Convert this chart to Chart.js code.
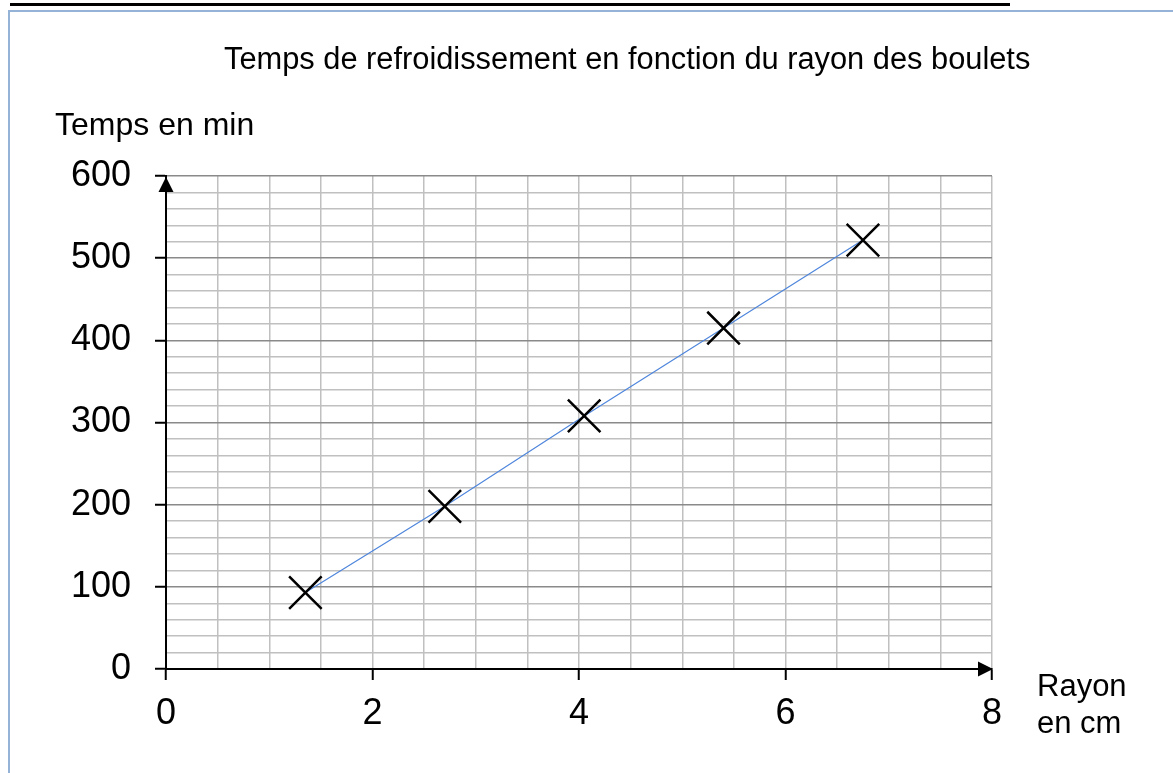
<!DOCTYPE html>
<html lang="fr">
<head>
<meta charset="utf-8">
<script src="https://cdn.jsdelivr.net/npm/chart.js@4/dist/chart.umd.min.js"></script>
<style>
  html, body { margin: 0; padding: 0; background: #ffffff; }
  body { width: 1173px; height: 773px; position: relative; overflow: hidden; font-family: "Liberation Sans", Arial, sans-serif; }
  #topbar { position: absolute; left: 10px; top: 3px; width: 1000px; height: 3px; background: #000; }
  #frame { position: absolute; left: 8px; top: 10px; width: 1200px; height: 800px; border-left: 2px solid #95b3d7; border-top: 2px solid #95b3d7; }
  canvas { position: absolute; left: 0; top: 0; }
  .txt { position: absolute; color: #000; line-height: 1; white-space: nowrap; }
  #title { left: 224px; top: 44px; font-size: 30.8px; }
  #ylab { left: 55px; top: 108px; font-size: 32px; }
  #xlab { left: 1037px; top: 668px; font-size: 31px; line-height: 36.5px; }
</style>
</head>
<body>
<div id="topbar"></div>
<div id="frame"></div>
<canvas id="c" width="1173" height="773" style="width:1173px;height:773px"></canvas>
<div class="txt" id="title">Temps de refroidissement en fonction du rayon des boulets</div>
<div class="txt" id="ylab">Temps en min</div>
<div class="txt" id="xlab">Rayon<br>en cm</div>
<script>
// ---- data ----
const radii = [1.35, 2.7, 4.05, 5.4, 6.75];      // rayon en cm
const times = [93, 198, 308, 415, 522];          // temps en min
const xTickLabels = [0, 2, 4, 6, 8];
const yTickLabels = [0, 100, 200, 300, 400, 500, 600];

const points = radii.map((r, i) => ({ x: r, y: times[i] }));

const arrowPlugin = {
  id: 'arrows',
  afterDraw(chart) {
    const ctx = chart.ctx;
    const xs = chart.scales.x, ys = chart.scales.y;
    const x0 = xs.getPixelForValue(0), y0 = ys.getPixelForValue(0);
    const xTop = ys.getPixelForValue(600), xEnd = xs.getPixelForValue(8);
    ctx.save();
    ctx.fillStyle = '#000';
    // up arrow
    ctx.beginPath();
    ctx.moveTo(x0, xTop + 1);
    ctx.lineTo(x0 - 7.5, xTop + 16);
    ctx.lineTo(x0 + 7.5, xTop + 16);
    ctx.closePath();
    ctx.fill();
    // right arrow
    ctx.beginPath();
    ctx.moveTo(xEnd + 1, y0);
    ctx.lineTo(xEnd - 14, y0 - 7.5);
    ctx.lineTo(xEnd - 14, y0 + 7.5);
    ctx.closePath();
    ctx.fill();
    ctx.restore();
  }
};

const tickFont = { family: "'Liberation Sans', Arial, sans-serif", size: 36 };

new Chart(document.getElementById('c'), {
  type: 'scatter',
  data: {
    datasets: [{
      data: points,
      showLine: true,
      borderColor: '#4f86dc',
      borderWidth: 1.2,
      pointStyle: 'crossRot',
      pointRadius: 23,
      pointHoverRadius: 23,
      pointBorderColor: '#000',
      pointBorderWidth: 2.5,
      pointBackgroundColor: '#000'
    }]
  },
  options: {
    responsive: false,
    animation: false,
    devicePixelRatio: 1,
    layout: { padding: { left: 0, top: 176, right: 181, bottom: 0 } },
    plugins: { legend: { display: false }, tooltip: { enabled: false }, title: { display: false } },
    scales: {
      x: {
        type: 'linear', min: 0, max: 8,
        afterFit: s => { s.height = 104; },
        ticks: {
          stepSize: 0.5, autoSkip: false, maxRotation: 0, padding: 12,
          color: '#000', font: tickFont,
          callback: v => xTickLabels.includes(v) ? String(v) : ''
        },
        grid: {
          color: c => (c.tick && c.tick.value === 0) ? 'rgba(0,0,0,0)' : '#c0c0c0',
          lineWidth: 1.5,
          tickLength: 11,
          tickWidth: 2,
          tickColor: c => (c.tick && xTickLabels.includes(c.tick.value)) ? '#000' : 'rgba(0,0,0,0)'
        },
        border: { display: true, color: '#000', width: 2 }
      },
      y: {
        type: 'linear', min: 0, max: 600,
        afterFit: s => { s.width = 166; },
        ticks: {
          stepSize: 20, autoSkip: false, padding: 24,
          color: '#000', font: tickFont,
          callback: v => yTickLabels.includes(v) ? String(v) : ''
        },
        grid: {
          color: c => {
            const v = c.tick ? c.tick.value : null;
            if (v === 0) return 'rgba(0,0,0,0)';
            return yTickLabels.includes(v) ? '#8a8a8a' : '#c0c0c0';
          },
          lineWidth: 1.5,
          tickLength: 11,
          tickWidth: 2,
          tickColor: c => (c.tick && yTickLabels.includes(c.tick.value)) ? '#000' : 'rgba(0,0,0,0)'
        },
        border: { display: true, color: '#000', width: 2 }
      }
    }
  },
  plugins: [arrowPlugin]
});
</script>
</body>
</html>
